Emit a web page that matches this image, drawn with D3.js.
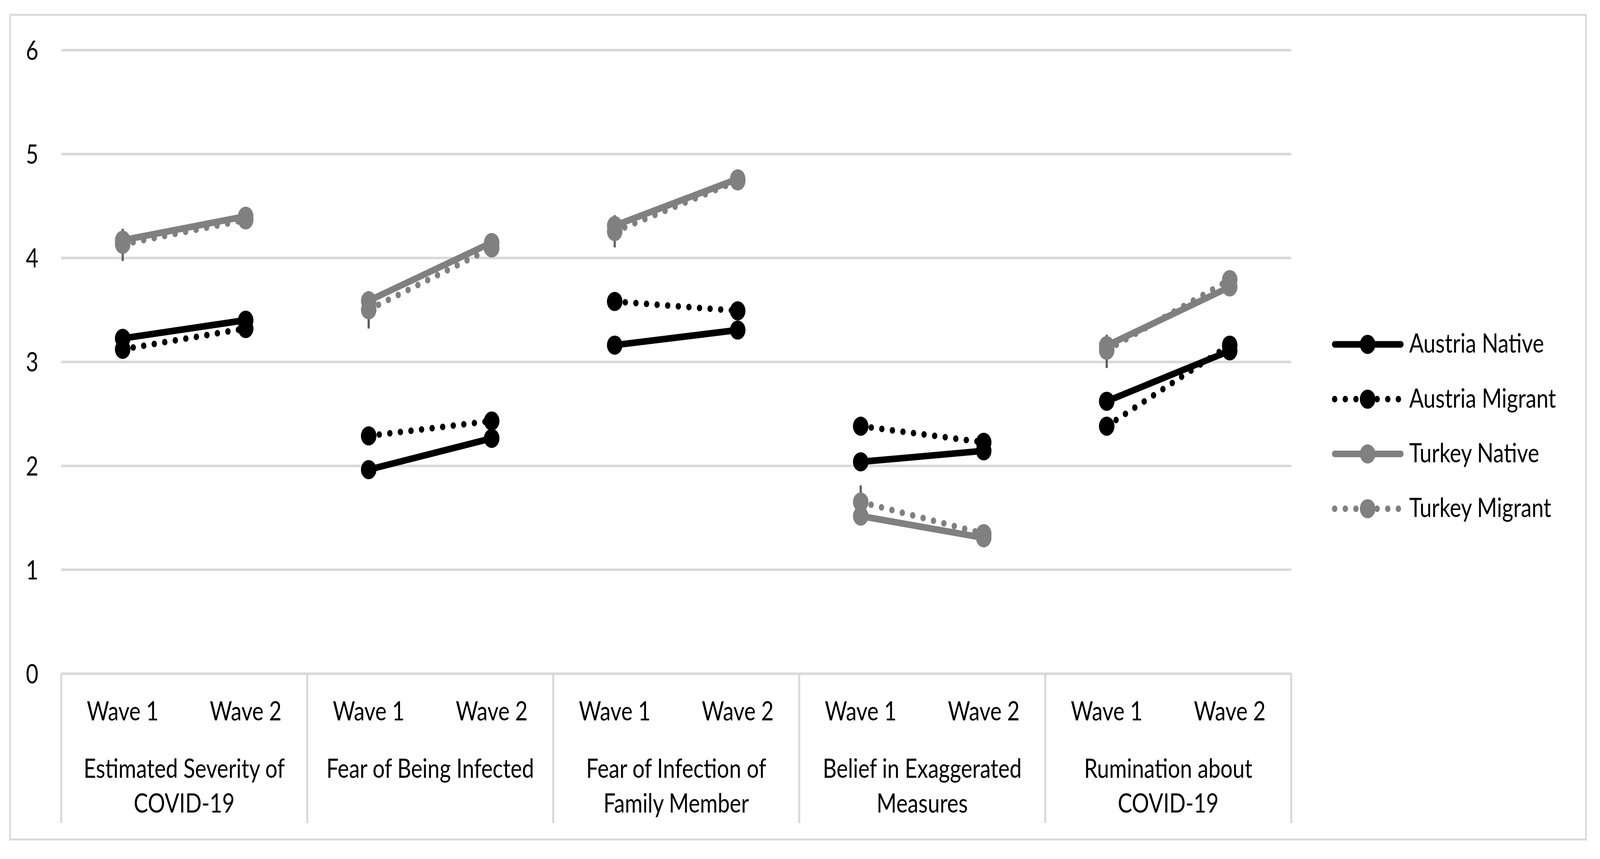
<!DOCTYPE html>
<html>
<head>
<meta charset="utf-8">
<script src="https://cdn.jsdelivr.net/npm/d3@7"></script>
<style>
  html, body { margin: 0; padding: 0; background: #ffffff; overflow: hidden; width: 100%; height: 100%; }
  svg { display: block; width: 100vw; height: 100vh; }
  text { font-family: Lato, "Noto Sans", sans-serif; fill: #000000; }
</style>
</head>
<body>
<svg id="chart" viewBox="0 0 5047 2200" preserveAspectRatio="none"></svg>
<script>
// ---------------- DATA ----------------
const groups = ["Estimated Severity of COVID-19", "Fear of Being Infected", "Fear of Infection of Family Member", "Belief in Exaggerated Measures", "Rumination about COVID-19"];
const groupLines = [
  ["Estimated Severity of", "COVID-19"],
  ["Fear of Being Infected"],
  ["Fear of Infection of", "Family Member"],
  ["Belief in Exaggerated", "Measures"],
  ["Rumination about", "COVID-19"]
];
const waves = ["Wave 1", "Wave 2"];
const seriesNames = ["Austria Native", "Austria Migrant", "Turkey Native", "Turkey Migrant"];

const austriaNativeW1  = [3.225, 1.962, 3.160, 2.037, 2.620];
const austriaNativeW2  = [3.400, 2.263, 3.305, 2.143, 3.105];
const austriaMigrantW1 = [3.120, 2.287, 3.580, 2.380, 2.380];
const austriaMigrantW2 = [3.320, 2.430, 3.490, 2.225, 3.160];
const turkeyNativeW1   = [4.170, 3.587, 4.310, 1.515, 3.155];
const turkeyNativeW2   = [4.400, 4.147, 4.760, 1.306, 3.720];
const turkeyMigrantW1  = [4.130, 3.500, 4.253, 1.650, 3.110];
const turkeyMigrantW2  = [4.365, 4.095, 4.740, 1.346, 3.790];
const turkeyMigrantW1ErrLow  = [3.97, 3.32, 4.10, 1.49, 2.94];
const turkeyMigrantW1ErrHigh = [4.28, 3.68, 4.41, 1.81, 3.26];

const yTicks = [0, 1, 2, 3, 4, 5, 6];

// ---------------- STYLES ----------------
const seriesStyle = [
  { color: "#000000", dash: null },
  { color: "#000000", dash: "0 33.5" },
  { color: "#808080", dash: null },
  { color: "#808080", dash: "0 33.5" }
];
const seriesW1 = [austriaNativeW1, austriaMigrantW1, turkeyNativeW1, turkeyMigrantW1];
const seriesW2 = [austriaNativeW2, austriaMigrantW2, turkeyNativeW2, turkeyMigrantW2];

const FONT = 68;
const LINE_W = 17;
const MARK_R = 24.5;
const GRID = "#d9d9d9";
const GRID_W = 6.5;

const plotL = 193, plotR = 4073, plotT = 128, plotB = 1725;

const svg = d3.select("#chart");

// outer border
svg.append("rect")
  .attr("x", 32).attr("y", 38)
  .attr("width", 5003 - 32).attr("height", 2150 - 38)
  .attr("fill", "#ffffff").attr("stroke", GRID).attr("stroke-width", 5);

// scales
const keys = [];
groups.forEach((g, gi) => waves.forEach((w, wi) => keys.push(gi + "|" + wi)));
const x = d3.scaleBand().domain(keys).range([plotL, plotR]).padding(0);
const xc = k => x(k) + x.bandwidth() / 2;
const y = d3.scaleLinear().domain([0, 6]).range([plotB, plotT]);

// y axis with gridlines
const yAxis = svg.append("g")
  .attr("transform", `translate(${plotL},0)`)
  .call(d3.axisLeft(y).tickValues(yTicks).tickSize(-(plotR - plotL)).tickPadding(72).tickFormat(d3.format("d")));
yAxis.select(".domain").remove();
yAxis.selectAll(".tick line").attr("stroke", GRID).attr("stroke-width", GRID_W);
yAxis.selectAll(".tick text")
  .attr("font-size", FONT).attr("font-family", "Lato, 'Noto Sans', sans-serif")
  .attr("fill", "#000").attr("dy", "0.36em");

// category separators
const sepX = d3.range(groups.length + 1).map(i => i < groups.length ? x(i + "|0") : plotR);
svg.append("g").selectAll("line").data(sepX).join("line")
  .attr("x1", d => d).attr("x2", d => d)
  .attr("y1", plotB).attr("y2", 2108)
  .attr("stroke", GRID).attr("stroke-width", GRID_W);

// wave labels via bottom axis
const xAxis = svg.append("g")
  .attr("transform", `translate(0,${plotB})`)
  .call(d3.axisBottom(x).tickSize(0).tickFormat(k => waves[+k.split("|")[1]]));
xAxis.select(".domain").remove();
xAxis.selectAll(".tick text")
  .attr("font-size", FONT).attr("font-family", "Lato, 'Noto Sans', sans-serif")
  .attr("fill", "#000").attr("y", 120).attr("dy", 0);

// group labels
const gl = svg.append("g");
groupLines.forEach((lines, gi) => {
  const cx = (x(gi + "|0") + x(gi + "|1") + x.bandwidth()) / 2;
  lines.forEach((ln, li) => {
    gl.append("text")
      .attr("x", cx).attr("y", 1992 + li * 89)
      .attr("text-anchor", "middle")
      .attr("font-size", FONT)
      .text(ln);
  });
});

// error bars (behind)
svg.append("g").selectAll("line").data(groups.map((g, gi) => gi)).join("line")
  .attr("x1", gi => xc(gi + "|0")).attr("x2", gi => xc(gi + "|0"))
  .attr("y1", gi => y(turkeyMigrantW1ErrLow[gi]))
  .attr("y2", gi => y(turkeyMigrantW1ErrHigh[gi]))
  .attr("stroke", "#5f5f5f").attr("stroke-width", 7);

// series
const line = d3.line().x(d => d[0]).y(d => d[1]);
seriesNames.forEach((name, si) => {
  const st = seriesStyle[si];
  const gS = svg.append("g").attr("class", "series");
  groups.forEach((g, gi) => {
    const pts = [[xc(gi + "|0"), y(seriesW1[si][gi])], [xc(gi + "|1"), y(seriesW2[si][gi])]];
    gS.append("path")
      .attr("d", line(pts))
      .attr("fill", "none")
      .attr("stroke", st.color)
      .attr("stroke-width", LINE_W)
      .attr("stroke-linecap", "round")
      .attr("stroke-dasharray", st.dash);
    gS.selectAll(null).data(pts).join("circle")
      .attr("cx", d => d[0]).attr("cy", d => d[1])
      .attr("r", MARK_R).attr("fill", st.color);
  });
});

// legend
const lg = svg.append("g");
seriesNames.forEach((name, si) => {
  const st = seriesStyle[si];
  const ry = 882 + si * 140.3;
  lg.append("path")
    .attr("d", line([[4210, ry], [4419, ry]]))
    .attr("fill", "none").attr("stroke", st.color)
    .attr("stroke-width", LINE_W).attr("stroke-linecap", "round")
    .attr("stroke-dasharray", st.dash);
  lg.append("circle").attr("cx", 4314).attr("cy", ry).attr("r", MARK_R).attr("fill", st.color);
  lg.append("text").attr("x", 4445).attr("y", ry + 21.5)
    .attr("font-size", FONT).text(name);
});
</script>
</body>
</html>
